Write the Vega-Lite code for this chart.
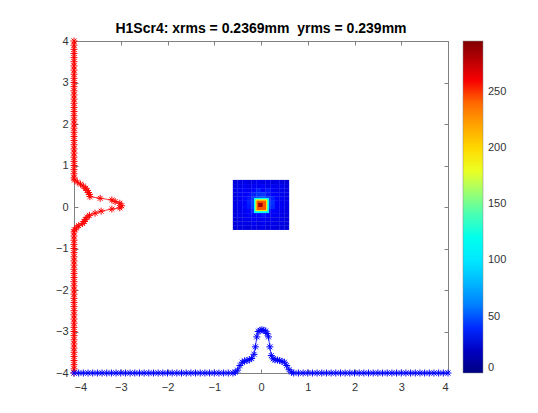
{
 "$schema": "https://vega.github.io/schema/vega-lite/v6.json",
 "width": 374, "height": 332,
 "autosize": {"type": "none"},
 "padding": {"left": 74, "top": 41, "right": 90, "bottom": 40},
 "background": "white",
 "title": {"text": "H1Scr4: xrms = 0.2369mm\u00a0 yrms = 0.239mm", "fontSize": 14, "font": "Liberation Sans", "fontWeight": "bold", "color": "#000000", "offset": -12, "baseline": "alphabetic", "anchor": "middle"},
 "config": {
  "view": {"stroke": null},
  "axis": {"grid": false, "domainColor": "#808080", "tickColor": "#808080", "tickSize": -4, "labelColor": "#333333", "labelFontSize": 11, "labelFont": "Liberation Sans", "domainWidth": 1, "tickWidth": 1, "title": null}
 },
 "datasets": {
  "heat": [
   {"x":-0.55,"y":0.6,"v":27},{"x":-0.45,"y":0.6,"v":29},{"x":-0.35,"y":0.6,"v":31},{"x":-0.25,"y":0.6,"v":28},{"x":-0.15,"y":0.6,"v":30},{"x":-0.05,"y":0.6,"v":33},{"x":0.05,"y":0.6,"v":29},{"x":0.15,"y":0.6,"v":31},{"x":0.25,"y":0.6,"v":28},{"x":0.35,"y":0.6,"v":30},{"x":0.45,"y":0.6,"v":28},{"x":0.55,"y":0.6,"v":26},
   {"x":-0.55,"y":0.5,"v":29},{"x":-0.45,"y":0.5,"v":31},{"x":-0.35,"y":0.5,"v":34},{"x":-0.25,"y":0.5,"v":32},{"x":-0.15,"y":0.5,"v":35},{"x":-0.05,"y":0.5,"v":33},{"x":0.05,"y":0.5,"v":36},{"x":0.15,"y":0.5,"v":32},{"x":0.25,"y":0.5,"v":34},{"x":0.35,"y":0.5,"v":31},{"x":0.45,"y":0.5,"v":33},{"x":0.55,"y":0.5,"v":28},
   {"x":-0.55,"y":0.4,"v":30},{"x":-0.45,"y":0.4,"v":33},{"x":-0.35,"y":0.4,"v":36},{"x":-0.25,"y":0.4,"v":34},{"x":-0.15,"y":0.4,"v":37},{"x":-0.05,"y":0.4,"v":39},{"x":0.05,"y":0.4,"v":36},{"x":0.15,"y":0.4,"v":38},{"x":0.25,"y":0.4,"v":34},{"x":0.35,"y":0.4,"v":33},{"x":0.45,"y":0.4,"v":31},{"x":0.55,"y":0.4,"v":29},
   {"x":-0.55,"y":0.3,"v":28},{"x":-0.45,"y":0.3,"v":34},{"x":-0.35,"y":0.3,"v":35},{"x":-0.25,"y":0.3,"v":37},{"x":-0.15,"y":0.3,"v":39},{"x":-0.05,"y":0.3,"v":41},{"x":0.05,"y":0.3,"v":42},{"x":0.15,"y":0.3,"v":38},{"x":0.25,"y":0.3,"v":36},{"x":0.35,"y":0.3,"v":35},{"x":0.45,"y":0.3,"v":32},{"x":0.55,"y":0.3,"v":30},
   {"x":-0.55,"y":0.2,"v":30},{"x":-0.45,"y":0.2,"v":33},{"x":-0.35,"y":0.2,"v":37},{"x":-0.25,"y":0.2,"v":38},{"x":-0.15,"y":0.2,"v":43},{"x":-0.05,"y":0.2,"v":48},{"x":0.05,"y":0.2,"v":50},{"x":0.15,"y":0.2,"v":44},{"x":0.25,"y":0.2,"v":39},{"x":0.35,"y":0.2,"v":36},{"x":0.45,"y":0.2,"v":34},{"x":0.55,"y":0.2,"v":29},
   {"x":-0.55,"y":0.1,"v":29},{"x":-0.45,"y":0.1,"v":34},{"x":-0.35,"y":0.1,"v":36},{"x":-0.25,"y":0.1,"v":39},{"x":-0.15,"y":0.1,"v":45},{"x":-0.05,"y":0.1,"v":55},{"x":0.05,"y":0.1,"v":56},{"x":0.15,"y":0.1,"v":46},{"x":0.25,"y":0.1,"v":41},{"x":0.35,"y":0.1,"v":36},{"x":0.45,"y":0.1,"v":33},{"x":0.55,"y":0.1,"v":31},
   {"x":-0.55,"y":0,"v":30},{"x":-0.45,"y":0,"v":32},{"x":-0.35,"y":0,"v":37},{"x":-0.25,"y":0,"v":38},{"x":-0.15,"y":0,"v":44},{"x":-0.05,"y":0,"v":50},{"x":0.05,"y":0,"v":51},{"x":0.15,"y":0,"v":44},{"x":0.25,"y":0,"v":40},{"x":0.35,"y":0,"v":35},{"x":0.45,"y":0,"v":34},{"x":0.55,"y":0,"v":29},
   {"x":-0.55,"y":-0.1,"v":28},{"x":-0.45,"y":-0.1,"v":33},{"x":-0.35,"y":-0.1,"v":34},{"x":-0.25,"y":-0.1,"v":37},{"x":-0.15,"y":-0.1,"v":40},{"x":-0.05,"y":-0.1,"v":42},{"x":0.05,"y":-0.1,"v":43},{"x":0.15,"y":-0.1,"v":39},{"x":0.25,"y":-0.1,"v":37},{"x":0.35,"y":-0.1,"v":34},{"x":0.45,"y":-0.1,"v":32},{"x":0.55,"y":-0.1,"v":30},
   {"x":-0.55,"y":-0.2,"v":29},{"x":-0.45,"y":-0.2,"v":31},{"x":-0.35,"y":-0.2,"v":33},{"x":-0.25,"y":-0.2,"v":35},{"x":-0.15,"y":-0.2,"v":36},{"x":-0.05,"y":-0.2,"v":37},{"x":0.05,"y":-0.2,"v":38},{"x":0.15,"y":-0.2,"v":36},{"x":0.25,"y":-0.2,"v":34},{"x":0.35,"y":-0.2,"v":33},{"x":0.45,"y":-0.2,"v":31},{"x":0.55,"y":-0.2,"v":28},
   {"x":-0.55,"y":-0.3,"v":27},{"x":-0.45,"y":-0.3,"v":30},{"x":-0.35,"y":-0.3,"v":32},{"x":-0.25,"y":-0.3,"v":33},{"x":-0.15,"y":-0.3,"v":35},{"x":-0.05,"y":-0.3,"v":33},{"x":0.05,"y":-0.3,"v":35},{"x":0.15,"y":-0.3,"v":32},{"x":0.25,"y":-0.3,"v":32},{"x":0.35,"y":-0.3,"v":31},{"x":0.45,"y":-0.3,"v":30},{"x":0.55,"y":-0.3,"v":28},
   {"x":-0.55,"y":-0.4,"v":28},{"x":-0.45,"y":-0.4,"v":30},{"x":-0.35,"y":-0.4,"v":31},{"x":-0.25,"y":-0.4,"v":29},{"x":-0.15,"y":-0.4,"v":33},{"x":-0.05,"y":-0.4,"v":30},{"x":0.05,"y":-0.4,"v":34},{"x":0.15,"y":-0.4,"v":30},{"x":0.25,"y":-0.4,"v":31},{"x":0.35,"y":-0.4,"v":30},{"x":0.45,"y":-0.4,"v":30},{"x":0.55,"y":-0.4,"v":27},
   {"x":-0.55,"y":-0.5,"v":26},{"x":-0.45,"y":-0.5,"v":28},{"x":-0.35,"y":-0.5,"v":29},{"x":-0.25,"y":-0.5,"v":28},{"x":-0.15,"y":-0.5,"v":30},{"x":-0.05,"y":-0.5,"v":29},{"x":0.05,"y":-0.5,"v":31},{"x":0.15,"y":-0.5,"v":28},{"x":0.25,"y":-0.5,"v":30},{"x":0.35,"y":-0.5,"v":28},{"x":0.45,"y":-0.5,"v":29},{"x":0.55,"y":-0.5,"v":27}
  ],
  "core": [
   {"x":-0.15,"x2":0.17,"y":-0.145,"y2":0.217,"v":110},
   {"x":-0.12,"x2":0.135,"y":-0.1,"y2":0.185,"v":185},
   {"x":-0.095,"x2":0.11,"y":-0.075,"y2":0.155,"v":245},
   {"x":-0.06,"x2":0.035,"y":0.0,"y2":0.1,"v":285}
  ],
  "rp": [
   {"x":-4,"y":-4},{"x":-4,"y":-3.9},{"x":-4,"y":-3.8},{"x":-4,"y":-3.7},{"x":-4,"y":-3.6},{"x":-4,"y":-3.5},{"x":-4,"y":-3.4},{"x":-4,"y":-3.3},{"x":-4,"y":-3.2},{"x":-4,"y":-3.1},{"x":-4,"y":-3},{"x":-4,"y":-2.9},{"x":-4,"y":-2.8},{"x":-4,"y":-2.7},{"x":-4,"y":-2.6},{"x":-4,"y":-2.5},{"x":-4,"y":-2.4},{"x":-4,"y":-2.3},{"x":-4,"y":-2.2},{"x":-4,"y":-2.1},{"x":-4,"y":-2},{"x":-4,"y":-1.9},{"x":-4,"y":-1.8},{"x":-4,"y":-1.7},{"x":-4,"y":-1.6},{"x":-4,"y":-1.5},{"x":-4,"y":-1.4},{"x":-4,"y":-1.3},{"x":-4,"y":-1.2},{"x":-4,"y":-1.1},{"x":-4,"y":-1},{"x":-4,"y":-0.9},{"x":-4,"y":-0.8},{"x":-4,"y":-0.7},{"x":-4,"y":-0.6},
   {"x":-3.99,"y":-0.55},{"x":-3.95,"y":-0.5},{"x":-3.9,"y":-0.45},{"x":-3.82,"y":-0.4},{"x":-3.78,"y":-0.35},{"x":-3.76,"y":-0.3},{"x":-3.72,"y":-0.25},{"x":-3.67,"y":-0.2},{"x":-3.55,"y":-0.15},{"x":-3.42,"y":-0.1},{"x":-3.19,"y":-0.05},{"x":-3.02,"y":-0.02},{"x":-2.98,"y":0.03},{"x":-3.02,"y":0.09},{"x":-3.12,"y":0.13},{"x":-3.19,"y":0.17},{"x":-3.44,"y":0.21},{"x":-3.66,"y":0.25},{"x":-3.67,"y":0.3},{"x":-3.69,"y":0.35},{"x":-3.72,"y":0.4},{"x":-3.75,"y":0.45},{"x":-3.8,"y":0.5},{"x":-3.86,"y":0.55},{"x":-3.93,"y":0.6},{"x":-3.99,"y":0.65},
   {"x":-4,"y":0.7},{"x":-4,"y":0.8},{"x":-4,"y":0.9},{"x":-4,"y":1},{"x":-4,"y":1.1},{"x":-4,"y":1.2},{"x":-4,"y":1.3},{"x":-4,"y":1.4},{"x":-4,"y":1.5},{"x":-4,"y":1.6},{"x":-4,"y":1.7},{"x":-4,"y":1.8},{"x":-4,"y":1.9},{"x":-4,"y":2},{"x":-4,"y":2.1},{"x":-4,"y":2.2},{"x":-4,"y":2.3},{"x":-4,"y":2.4},{"x":-4,"y":2.5},{"x":-4,"y":2.6},{"x":-4,"y":2.7},{"x":-4,"y":2.8},{"x":-4,"y":2.9},{"x":-4,"y":3},{"x":-4,"y":3.1},{"x":-4,"y":3.2},{"x":-4,"y":3.3},{"x":-4,"y":3.4},{"x":-4,"y":3.5},{"x":-4,"y":3.6},{"x":-4,"y":3.7},{"x":-4,"y":3.8},{"x":-4,"y":3.9},{"x":-4,"y":4}
  ],
  "bp": [
   {"y":-4,"x":-4},{"y":-4,"x":-3.9},{"y":-4,"x":-3.8},{"y":-4,"x":-3.7},{"y":-4,"x":-3.6},{"y":-4,"x":-3.5},{"y":-4,"x":-3.4},{"y":-4,"x":-3.3},{"y":-4,"x":-3.2},{"y":-4,"x":-3.1},{"y":-4,"x":-3},{"y":-4,"x":-2.9},{"y":-4,"x":-2.8},{"y":-4,"x":-2.7},{"y":-4,"x":-2.6},{"y":-4,"x":-2.5},{"y":-4,"x":-2.4},{"y":-4,"x":-2.3},{"y":-4,"x":-2.2},{"y":-4,"x":-2.1},{"y":-4,"x":-2},{"y":-4,"x":-1.9},{"y":-4,"x":-1.8},{"y":-4,"x":-1.7},{"y":-4,"x":-1.6},{"y":-4,"x":-1.5},{"y":-4,"x":-1.4},{"y":-4,"x":-1.3},{"y":-4,"x":-1.2},{"y":-4,"x":-1.1},{"y":-4,"x":-1},{"y":-4,"x":-0.9},{"y":-4,"x":-0.8},{"y":-4,"x":-0.7},{"y":-4,"x":-0.6},
   {"y":-3.98,"x":-0.55},{"y":-3.93,"x":-0.5},{"y":-3.82,"x":-0.45},{"y":-3.74,"x":-0.4},{"y":-3.71,"x":-0.35},{"y":-3.7,"x":-0.3},{"y":-3.68,"x":-0.25},{"y":-3.65,"x":-0.2},{"y":-3.55,"x":-0.15},{"y":-3.37,"x":-0.12},{"y":-3.13,"x":-0.09},{"y":-3,"x":-0.06},{"y":-2.97,"x":-0.02},{"y":-2.96,"x":0.02},{"y":-2.97,"x":0.06},{"y":-2.99,"x":0.1},{"y":-3.05,"x":0.13},{"y":-3.13,"x":0.16},{"y":-3.37,"x":0.19},{"y":-3.58,"x":0.22},{"y":-3.66,"x":0.26},{"y":-3.68,"x":0.3},{"y":-3.69,"x":0.35},{"y":-3.7,"x":0.4},{"y":-3.72,"x":0.45},{"y":-3.74,"x":0.5},{"y":-3.82,"x":0.55},{"y":-3.92,"x":0.6},{"y":-3.98,"x":0.65},
   {"y":-4,"x":0.7},{"y":-4,"x":0.8},{"y":-4,"x":0.9},{"y":-4,"x":1},{"y":-4,"x":1.1},{"y":-4,"x":1.2},{"y":-4,"x":1.3},{"y":-4,"x":1.4},{"y":-4,"x":1.5},{"y":-4,"x":1.6},{"y":-4,"x":1.7},{"y":-4,"x":1.8},{"y":-4,"x":1.9},{"y":-4,"x":2},{"y":-4,"x":2.1},{"y":-4,"x":2.2},{"y":-4,"x":2.3},{"y":-4,"x":2.4},{"y":-4,"x":2.5},{"y":-4,"x":2.6},{"y":-4,"x":2.7},{"y":-4,"x":2.8},{"y":-4,"x":2.9},{"y":-4,"x":3},{"y":-4,"x":3.1},{"y":-4,"x":3.2},{"y":-4,"x":3.3},{"y":-4,"x":3.4},{"y":-4,"x":3.5},{"y":-4,"x":3.6},{"y":-4,"x":3.7},{"y":-4,"x":3.8},{"y":-4,"x":3.9},{"y":-4,"x":4}
  ]
 },
 "resolve": {"axis": {"x": "independent", "y": "independent"}},
 "layer": [
  {
   "data": {"name": "heat"},
   "mark": {"type": "rect", "width": 4.9, "height": 4.4},
   "encoding": {
    "x": {"field": "x", "type": "quantitative", "scale": {"domain": [-4, 4], "nice": false, "zero": false}, "axis": {"orient": "bottom", "values": [-4,-3,-2,-1,0,1,2,3,4], "labelPadding": 12}},
    "y": {"field": "y", "type": "quantitative", "scale": {"domain": [-4, 4], "nice": false, "zero": false}, "axis": {"orient": "left", "values": [-4,-3,-2,-1,0,1,2,3,4], "labelPadding": 10}},
    "color": {"field": "v", "type": "quantitative",
     "scale": {"domain": [0, 36.875, 110.625, 184.375, 258.125, 295], "range": ["#000080", "#0000ff", "#00ffff", "#ffff00", "#ff0000", "#800000"]},
     "legend": {"orient": "none", "legendX": 389, "legendY": 0, "direction": "vertical", "gradientLength": 332, "gradientThickness": 20, "title": null, "values": [0, 50, 100, 150, 200, 250], "labelFontSize": 11, "labelFont": "Liberation Sans", "labelColor": "#333333", "labelOffset": 5, "gradientStrokeColor": "#888888", "gradientStrokeWidth": 0.5, "padding": 0}}
   }
  },
  {
   "data": {"name": "core"},
   "mark": {"type": "rect"},
   "encoding": {
    "x": {"field": "x", "type": "quantitative", "axis": null},
    "x2": {"field": "x2"},
    "y": {"field": "y", "type": "quantitative", "axis": null},
    "y2": {"field": "y2"},
    "color": {"field": "v", "type": "quantitative"}
   }
  },
  {
   "data": {"name": "rp"},
   "mark": {"type": "line", "color": "#ff0000", "strokeWidth": 0.8, "clip": false},
   "encoding": {
    "x": {"field": "x", "type": "quantitative", "axis": {"orient": "top", "values": [-4,-3,-2,-1,0,1,2,3,4], "labels": false, "minExtent": 0, "maxExtent": 0}},
    "y": {"field": "y", "type": "quantitative", "axis": {"orient": "right", "values": [-4,-3,-2,-1,0,1,2,3,4], "labels": false, "minExtent": 0, "maxExtent": 0}},
    "order": {"field": "y", "type": "quantitative"}
   }
  },
  {
   "data": {"name": "rp"},
   "mark": {"type": "point", "shape": "M-1,0H1M0,-1V1M-0.7,-0.7L0.7,0.7M-0.7,0.7L0.7,-0.7", "filled": false, "color": "#ff0000", "size": 49, "strokeWidth": 1, "opacity": 1},
   "encoding": {
    "x": {"field": "x", "type": "quantitative", "axis": null},
    "y": {"field": "y", "type": "quantitative", "axis": null}
   }
  },
  {
   "data": {"name": "bp"},
   "mark": {"type": "line", "color": "#0000ff", "strokeWidth": 0.8},
   "encoding": {
    "x": {"field": "x", "type": "quantitative", "axis": null},
    "y": {"field": "y", "type": "quantitative", "axis": null},
    "order": {"field": "x", "type": "quantitative"}
   }
  },
  {
   "data": {"name": "bp"},
   "mark": {"type": "point", "shape": "M-1,0H1M0,-1V1M-0.7,-0.7L0.7,0.7M-0.7,0.7L0.7,-0.7", "filled": false, "color": "#0000ff", "size": 49, "strokeWidth": 1, "opacity": 1},
   "encoding": {
    "x": {"field": "x", "type": "quantitative", "axis": null},
    "y": {"field": "y", "type": "quantitative", "axis": null}
   }
  }
 ]
}
